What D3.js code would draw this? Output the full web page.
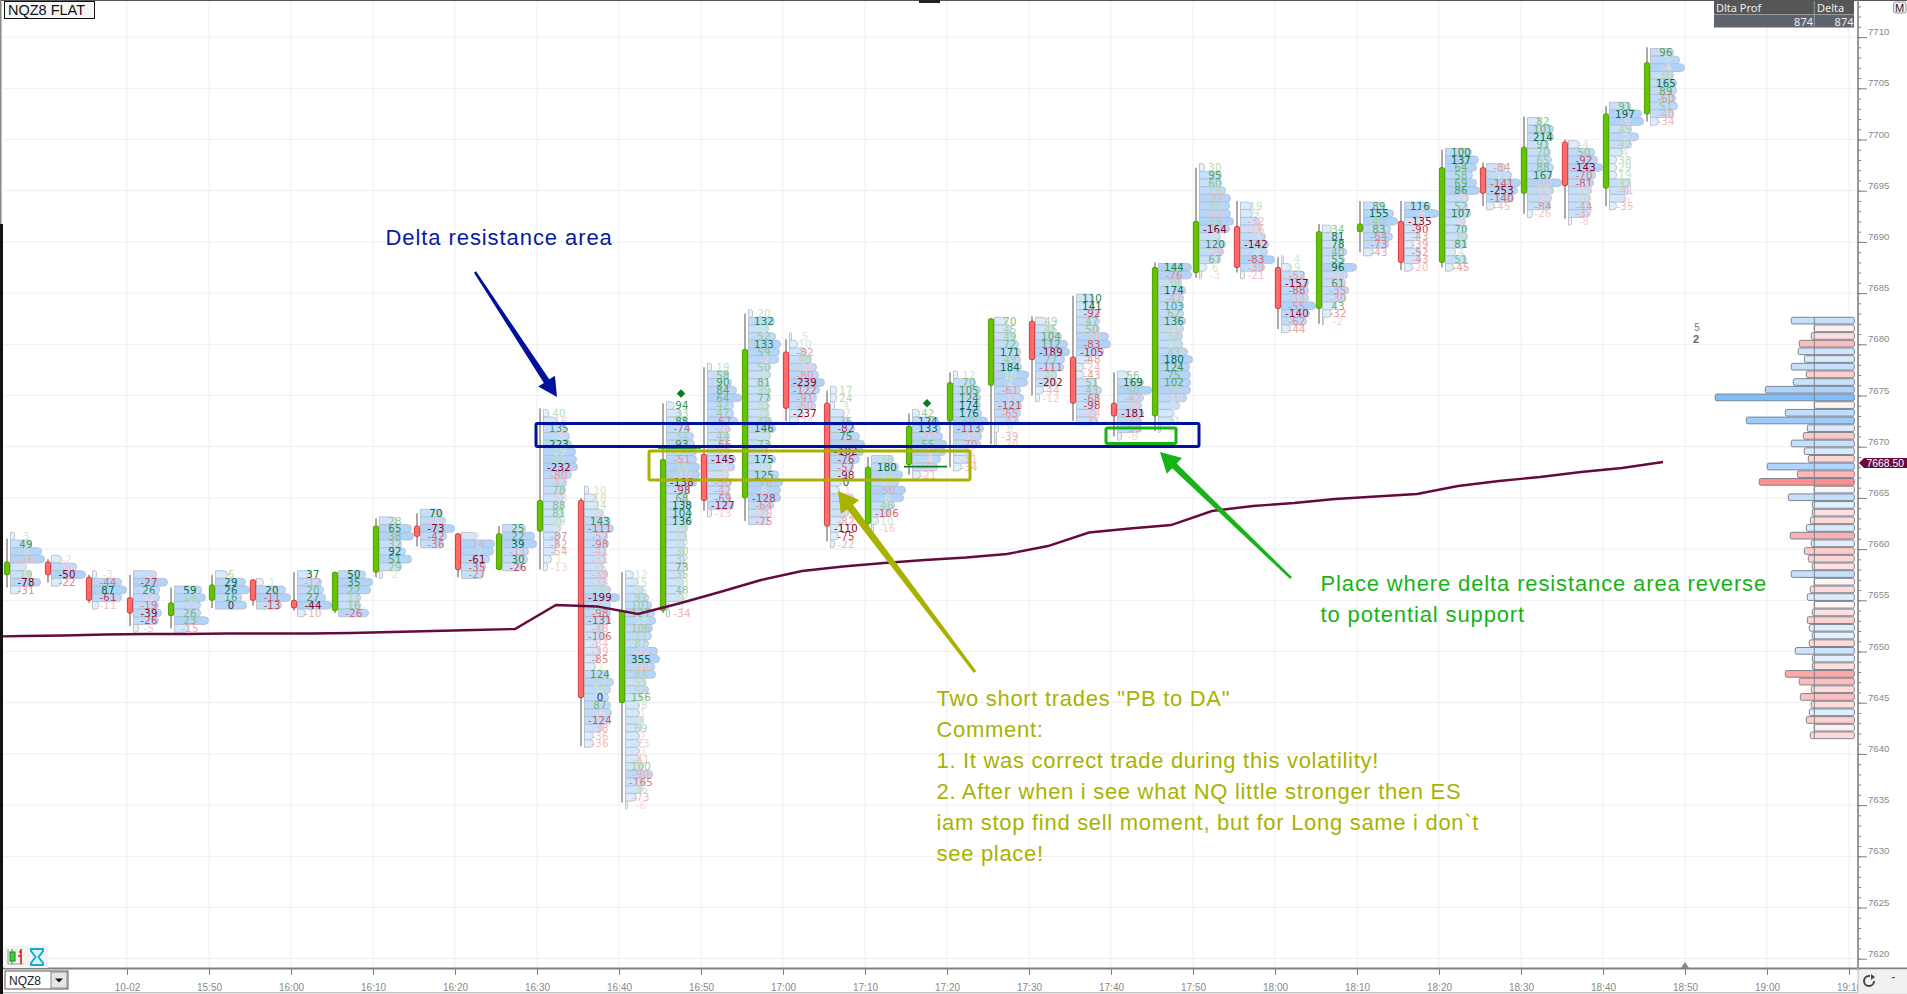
<!DOCTYPE html>
<html><head><meta charset="utf-8">
<script src="https://cdn.jsdelivr.net/npm/d3@7/dist/d3.min.js"></script>
<style>html,body{margin:0;padding:0;background:#fff;overflow:hidden}svg{display:block}</style>
</head><body><svg id="c" width="1907" height="994"></svg>
<script>
// ---- data ----
const candleMinutes=[-15,-10,-5,0,5,10,15,20,25,30,35,40,45,50,55,60,65,70,75,80,85,90,95,100,105,110,115,120,125,130,135,140,145,150,155,160,165,170,175,180,185];
const candleOpen=[7657.5,7658.75,7657.25,7655.25,7653.5,7655,7657,7655,7654,7657.75,7662.25,7661.5,7658,7661.75,7664.75,7645,7654,7669.25,7665,7679.25,7674.25,7662.5,7668.25,7672.5,7676,7682.25,7678.75,7674.25,7673,7687,7691.5,7687.5,7683.5,7691,7692,7688,7697.25,7694.75,7699.75,7695.25,7702.5];
const candleHigh=[7661,7659,7657.5,7657.5,7656.25,7657.5,7657,7657.75,7657.75,7663,7663.5,7661.5,7662.25,7673.75,7665,7657.75,7674.25,7677.75,7683,7680.5,7675.5,7669,7673.25,7677.25,7682.5,7682.75,7684.75,7677.25,7688,7697.25,7694,7688.5,7691.75,7694,7694,7699,7697.75,7702.25,7700,7703.25,7709];
const candleLow=[7656.25,7656.75,7654.75,7652.5,7652.25,7654.25,7654.5,7654,7653.75,7657.25,7660.25,7657.25,7658,7658,7640.75,7635.25,7653.75,7663.75,7662.75,7672.5,7660.75,7661.75,7667.25,7668,7670.25,7675,7672.5,7671,7671.5,7686.5,7687,7681.5,7682,7689,7687.25,7687.5,7693.5,7692.75,7692.25,7693.5,7701.75];
const candleClose=[7658.75,7657.5,7655,7653.75,7654.75,7656.5,7655,7654.25,7657.75,7662.25,7661.25,7658,7661.5,7664.75,7645.5,7654,7668.75,7664.75,7679.5,7673.75,7662.25,7668,7672,7676.25,7682.5,7678.5,7674.25,7673,7687.5,7692,7687.5,7683.5,7691,7691.75,7688,7697.25,7694.75,7699.25,7695.5,7702.5,7707.5];
const rowTop=[7661.64,7659.39,7657.89,7657.89,7656.39,7657.89,7657.14,7657.89,7657.89,7663.14,7663.89,7661.64,7662.39,7673.64,7666.14,7657.89,7674.39,7678.14,7683.39,7681.14,7675.89,7669.14,7673.64,7677.39,7682.64,7682.64,7684.89,7677.39,7687.89,7697.64,7693.89,7688.64,7691.64,7693.89,7693.89,7699.14,7697.64,7702.14,7699.89,7703.64,7708.89];
const rowDeltas=[
[3,49,8,-16,1,19,-78,-31],
[-2,-5,-50,-22],
[-3,-44,87,-61,-11],
[-3,-27,26,-2,-19,-39,-26,-5],
[59,14,-7,26,23,-15],
[6,29,26,16,0],
[1,20,-11,-13],
[37,-12,20,27,-44,-10],
[50,35,22,11,16,-26],
[28,65,38,32,92,51,29,2],
[70,-12,-73,-42,-36],
[2,-14,-7,-61,-35,-27],
[25,22,39,-11,30,-26],
[40,-16,135,-3,223,19,31,-232,-80,-41,78,-23,88,81,29,9,-87,-82,-54,1,-13],
[10,18,24,-9,143,-111,-57,-98,-41,-31,25,-39,-33,26,-199,23,-98,-131,-48,-106,-34,-39,-85,2,124,24,20,0,87,-6,-124,-38,-36,-36],
[12,15,35,91,101,127,18,106,77,87,-22,355,-48,84,55,68,156,18,-1,5,69,-2,-23,-3,-41,100,-90,-165,36,-73,-6],
[94,33,88,-74,34,93,14,-51,18,-10,-138,-98,68,138,104,136,20,21,22,30,32,73,35,13,48,12,1,-34],
[19,58,90,84,64,42,47,-67,-26,44,-66,-17,-145,-6,-7,-50,-42,-69,-127,-13],
[20,132,9,52,133,59,-2,50,8,81,39,77,35,18,48,146,12,73,-9,175,19,125,-46,6,-128,-64,-29,-75],
[5,10,-82,46,-16,-80,-239,-122,-91,-60,-237,-24],
[17,24,4,-7,36,-82,75,-20,-102,-76,-57,-98,0,-1,-5,-3,-15,-32,-110,-75,-22],
[36,180,24,22,-50,8,46,-106,10,-16],
[42,124,133,-25,55,-6,-4,-22,-21],
[12,70,105,124,174,176,50,-113,-15,-70,-8,-31,-34],
[70,45,49,72,171,49,184,10,2,-61,-13,-121,-65,-47,8,-39,-20],
[49,45,104,112,-189,77,-111,40,-202,-44,-12],
[110,141,-92,47,50,-18,-83,-105,-48,-24,-43,51,43,-68,-98,-24,-31],
[56,169,50,-42,-25,-181,-34,-50,-8],
[144,-76,38,174,-47,103,62,136,-15,34,14,43,180,124,75,102,37,-10,5,1,21,-3],
[30,95,60,29,-37,31,-23,39,-164,6,120,-29,67,6,-3],
[19,9,-32,-16,-4,-142,4,-83,-39,-21],
[4,9,-52,-157,-88,-33,-55,-140,-62,-44],
[34,81,78,40,55,96,-11,61,-35,-30,43,-32,-2],
[89,155,40,83,-64,-73,-43],
[116,-6,-135,-90,-43,-39,-52,-43,-20],
[100,137,64,58,69,86,-7,52,107,-5,70,30,81,4,51,-45],
[-84,11,-141,-253,-140,-45],
[82,101,214,91,70,65,88,167,-32,19,-14,-84,-26],
[-4,50,-92,-143,-70,-81,-15,20,-44,-37,-8],
[91,197,-9,45,7,42,4,38,29,19,37,-41,-5,-35],
[96,7,-4,36,165,89,-60,51,-40,-34]
];
const rowVols=[
[4,21,31,34,16,21,30,10],
[10,25,34,10],
[4,29,34,29,6],
[23,34,26,26,25,28,25,5],
[27,31,26,26,34,14],
[12,30,34,26,31],
[7,29,34,25],
[14,24,26,28,34,8],
[27,34,32,22,22,30],
[17,32,34,22,26,32,22,3],
[22,25,34,26,23],
[15,33,32,28,24,22],
[23,32,34,26,25,19],
[5,13,23,26,28,32,33,34,28,23,22,20,20,20,18,17,17,15,12,8,4],
[4,11,14,18,26,29,23,24,21,21,19,23,21,26,35,26,26,26,19,21,13,16,14,11,24,29,26,24,26,27,24,18,9,9],
[8,13,18,23,26,29,30,27,26,23,32,34,29,30,20,23,16,14,14,18,16,14,14,14,14,18,27,20,16,11,2],
[8,15,20,23,27,28,30,30,33,33,30,23,20,25,25,25,20,20,18,18,18,18,18,17,17,17,2,3],
[4,21,24,29,34,26,26,30,22,22,21,22,28,27,21,24,22,22,26,4],
[4,26,20,27,32,31,30,22,22,20,22,22,20,20,23,27,22,22,20,27,23,30,34,32,32,25,20,20],
[2,8,17,22,27,29,35,30,27,26,14,9],
[6,6,4,14,19,24,29,34,33,29,23,19,11,9,23,19,18,13,11,8,4],
[22,27,31,27,34,32,23,18,7,2],
[7,26,28,30,34,33,28,25,8],
[4,22,27,27,27,28,34,30,28,27,15,15,8],
[11,17,21,24,26,26,27,34,33,26,29,27,26,24,4,2,2],
[11,19,26,32,34,29,28,21,21,8,4],
[17,17,23,23,23,32,34,27,13,7,7,20,25,22,20,20,20],
[11,26,34,26,24,26,24,24,4],
[33,33,23,27,25,25,25,27,25,24,24,29,34,31,32,32,32,28,21,15,15,2],
[5,22,22,26,31,30,31,34,30,21,26,24,21,7,2],
[11,12,19,21,25,28,27,34,24,4],
[2,10,23,27,27,27,34,28,25,9],
[9,19,21,24,22,34,25,23,26,23,12,9,1],
[20,30,34,27,29,25,10],
[26,34,17,16,14,9,16,16,8],
[26,33,31,27,31,34,23,22,25,20,21,22,21,10,21,8],
[19,25,34,31,27,8],
[13,26,26,21,23,24,26,24,34,26,24,23,5],
[11,26,29,34,27,25,23,22,22,20,3],
[21,32,34,22,29,22,13,7,7,7,21,19,16,7],
[23,29,34,23,26,26,25,27,23,8]
];
const vwapMinutes=[-20,-15,-10,-5,0,5,10,15,20,25,30,35,40,45,50,55,60,65,70,75,80,85,90,95,100,105,110,115,120,125,130,135,140,145,150,155,160,165,170,175,180,185];
const vwapValues=[7651.45,7651.51,7651.56,7651.66,7651.71,7651.71,7651.76,7651.76,7651.76,7651.81,7651.9,7652,7652.1,7652.2,7654.54,7654.4,7653.66,7654.69,7655.81,7656.98,7657.86,7658.3,7658.64,7658.94,7659.18,7659.52,7660.3,7661.62,7662.01,7662.35,7663.72,7664.21,7664.5,7664.89,7665.14,7665.38,7666.16,7666.65,7667.04,7667.53,7667.92,7668.51];
const profileTop=7682.64;
const profileValues=[63,-12,-43,-55,56,50,63,-48,61,89,139,-8,69,108,47,-51,63,50,-46,87,-57,-95,-5,66,42,-42,-44,48,-64,43,-50,-46,-42,63,-6,-44,47,-4,-42,-47,45,42,-45,59,42,-42,-69,-55,-43,-54,-43,45,-48,-15,-44];
const markCandles=[16,22];
const markPrices=[7675.2,7674.25];
const pocPrices=[7669.875,7668.05];
const lastPrice=7668.5;
const priceTicks=[7620,7625,7630,7635,7640,7645,7650,7655,7660,7665,7670,7675,7680,7685,7690,7695,7700,7705,7710];
const timeTicks=[0,10,20,30,40,50,60,70,80,90,100,110,120,130,140,150,160,170,180,190,200,210];
const timeLabels=["10-02","15:50","16:00","16:10","16:20","16:30","16:40","16:50","17:00","17:10","17:20","17:30","17:40","17:50","18:00","18:10","18:20","18:30","18:40","18:50","19:00","19:10"];
const blueNote=["Delta resistance area"];
const greenNote=["Place where delta resistance area reverse","to potential support"];
const yellowNote=['Two short trades "PB to DA"',"Comment:","1. It was correct trade during this volatility!","2. After when i see what NQ little stronger then ES","iam stop find sell moment, but for Long same i don`t","see place!"];

// ---- scales ----
const svg=d3.select("#c");
const y=d3.scaleLinear().domain([7620,7710]).range([958.7,37.1]);
const x=d3.scaleLinear().domain([0,210]).range([127,1849]);
const plotL=3,plotR=1858,plotT=1,plotB=968;
const barShift=3,rowGap=3.5,rowH=y(0.75)-y(1.5),labelDx=15.5;
const cx=m=>x(m)+barShift;
const volW=d3.scaleLinear().domain([0,35]).range([0,35]);
const volFill=d3.scaleLinear().domain([0,34]).range(["#eef6fe","#b0d3fb"]);
const posText=d3.scaleLinear().domain([0,.2,.4,.6,.8,1]).range(["#dcebd8","#b5d8ac","#7fbb7f","#45a055","#178045","#006b3b"]);
const negText=d3.scaleLinear().domain([0,.2,.4,.6,.8,1]).range(["#f9dada","#f0b6b6","#e08c8c","#cc5a62","#b02238","#8c0020"]);
const textCol=(d,m)=>d===0?"#2a3550":(d>0?posText:negText)(Math.abs(d)/m);

svg.append("defs").append("clipPath").attr("id","plot").append("rect").attr("x",plotL).attr("y",plotT).attr("width",plotR-plotL).attr("height",plotB-plotT);

// ---- grid ----
const grid=svg.append("g").attr("stroke","#f1f1f1").attr("stroke-width",1.2);
grid.selectAll(".h").data(priceTicks).join("line").attr("x1",plotL).attr("x2",plotR).attr("y1",d=>y(d)).attr("y2",d=>y(d));
grid.selectAll(".v").data(timeTicks).join("line").attr("y1",plotT).attr("y2",plotB).attr("x1",d=>x(d)).attr("x2",d=>x(d));

// ---- candles + footprint ----
const plot=svg.append("g").attr("clip-path","url(#plot)");
const rowPath=(l,t,w,h)=>{const r=Math.min(4,w/2,h/2);return `M${l},${t}H${l+w-r}Q${l+w},${t} ${l+w},${t+r}V${t+h-r}Q${l+w},${t+h} ${l+w-r},${t+h}H${l}Z`;};
const bars=plot.selectAll("g.bar").data(candleMinutes.map((m,i)=>i)).join("g").attr("class","bar");
bars.each(function(i){
  const g=d3.select(this),m=candleMinutes[i],c=cx(m),left=c+rowGap;
  const ds=rowDeltas[i],vs=rowVols[i],top=y(rowTop[i]);
  const maxAbs=d3.max(ds,Math.abs)||1;
  const rows=ds.map((d,k)=>({d,v:vs[k],k}));
  g.selectAll("path.row").data(rows).join("path").attr("class","row")
    .attr("d",r=>rowPath(left,top+r.k*rowH,volW(r.v),rowH))
    .attr("fill",r=>volFill(r.v)).attr("stroke","#b7bec7").attr("stroke-width",.9);
  g.append("line").attr("x1",c).attr("x2",c).attr("y1",y(candleHigh[i])).attr("y2",y(candleLow[i])).attr("stroke","#a9a9a9").attr("stroke-width",2);
  const up=candleClose[i]>=candleOpen[i];
  const bt=y(Math.max(candleOpen[i],candleClose[i])),bb=y(Math.min(candleOpen[i],candleClose[i]));
  g.append("rect").attr("x",c-2.6).attr("width",5.2).attr("y",bt).attr("height",bb-bt).attr("rx",1.6)
    .attr("fill",up?"#63c400":"#ff6a6a").attr("stroke",up?"#4f9f00":"#d83a3a").attr("stroke-width",1);
  g.selectAll("text").data(rows).join("text")
    .attr("x",left+labelDx).attr("y",r=>top+(r.k+.5)*rowH+3.8)
    .attr("text-anchor","middle").attr("font-family","DejaVu Sans").attr("font-size",10.2).attr("letter-spacing",.2)
    .attr("fill",r=>textCol(r.d,maxAbs)).text(r=>r.d);
});
// POC lines and diamonds
markCandles.forEach((b,k)=>{
  const c=cx(candleMinutes[b]);
  plot.append("line").attr("x1",c-5).attr("x2",c+38).attr("y1",y(pocPrices[k])).attr("y2",y(pocPrices[k])).attr("stroke","#0b7a1e").attr("stroke-width",1.6);
  plot.append("path").attr("d",d3.symbol(d3.symbolSquare,36)).attr("transform",`translate(${c+18},${y(markPrices[k])}) rotate(45)`).attr("fill","#0a7d1e");
});
// VWAP
plot.append("path").datum(vwapMinutes.map((m,i)=>[cx(m)+16,y(vwapValues[i])]))
  .attr("d",d3.line()).attr("fill","none").attr("stroke","#660a3c").attr("stroke-width",2.4);

// ---- volume profile ----
const profW=v=>Math.max(40,Math.abs(v));
const profBlue=d3.scaleLinear().domain([0,42,63,108,139]).range(["#f4f9ff","#e3f0fd","#c6e0fb","#9ccbfc","#80bdfb"]);
const profRed=d3.scaleLinear().domain([0,42,55,70,95]).range(["#fff7f7","#ffe0e0","#ffbcbc","#ffa8a8","#ff8e8e"]);
const profR=1854.3;
svg.append("g").selectAll("rect").data(profileValues).join("rect")
  .attr("x",v=>profR-profW(v)).attr("width",profW).attr("y",(v,k)=>y(profileTop)+k*rowH).attr("height",rowH-1).attr("rx",1.5)
  .attr("fill",v=>v>=0?profBlue(v):profRed(-v)).attr("stroke","#7d858e").attr("stroke-width",1);
svg.append("line").attr("x1",profR-40).attr("x2",profR-40).attr("y1",y(profileTop)).attr("y2",y(profileTop)+profileValues.length*rowH-1).attr("stroke","#7d858e");
svg.append("text").attr("x",1697).attr("y",331).attr("text-anchor","middle").attr("font-family","Liberation Sans").attr("font-size",10).attr("fill","#777").text("5");
svg.append("text").attr("x",1696).attr("y",343).attr("text-anchor","middle").attr("font-family","Liberation Sans").attr("font-weight","bold").attr("font-size",11).attr("fill","#666").text("2");

// ---- annotations ----
function box(x0,y0,x1,y1,col){svg.append("rect").attr("x",x0).attr("y",y0).attr("width",x1-x0).attr("height",y1-y0).attr("rx",1.5).attr("fill","none").attr("stroke",col).attr("stroke-width",3);}
box(536,423.5,1199,446.5,"#00129c");
box(649,451,970,480,"#a9b200");
box(1106,428,1176,443.5,"#17b317");
function arrow(x0,y0,x1,y1,col,w0,w1,hl,hw){
  const a=Math.atan2(y1-y0,x1-x0),ca=Math.cos(a),sa=Math.sin(a);
  const bx=x1-ca*hl,by=y1-sa*hl;
  svg.append("path").attr("d",`M${x0-sa*w0/2},${y0+ca*w0/2}L${bx-sa*w1/2},${by+ca*w1/2}L${bx-sa*hw/2},${by+ca*hw/2}L${x1},${y1}L${bx+sa*hw/2},${by-ca*hw/2}L${bx+sa*w1/2},${by-ca*w1/2}L${x0+sa*w0/2},${y0-ca*w0/2}Z`).attr("fill",col);
}
arrow(475,272,557,397,"#00129c",2.5,6.5,19,20);
arrow(975,672,838,491,"#a9b200",3,7.5,20,23);
arrow(1291,578,1160,452,"#17b317",2.5,6.5,20,22);
function note(lines,xp,y0,dy,col,ls){
  svg.append("g").selectAll("text").data(lines).join("text").attr("x",xp).attr("y",(d,k)=>y0+k*dy)
    .attr("font-family","Liberation Sans").attr("font-size",22).attr("letter-spacing",ls).attr("fill",col).text(d=>d);
}
note(blueNote,385.5,244.5,0,"#0a1aa0",.92);
note(greenNote,1320.5,591,31,"#17b317",.87);
note(yellowNote,936.5,706,31,"#a9b200",.7);

// ---- frame ----
svg.append("rect").attr("x",0).attr("y",0).attr("width",1907).attr("height",1).attr("fill","#555");
svg.append("rect").attr("x",0).attr("y",0).attr("width",1.5).attr("height",224).attr("fill","#888");
svg.append("rect").attr("x",0).attr("y",224).attr("width",3).attr("height",770).attr("fill","#111");
svg.append("rect").attr("x",919).attr("y",0).attr("width",21).attr("height",3).attr("fill","#222");

// ---- axes ----
const axisCol="#808080";
const yAxisMinor=svg.append("g").attr("transform",`translate(${plotR},0)`)
  .call(d3.axisRight(y).tickValues(d3.range(7618,7716)).tickSize(3).tickFormat(""));
yAxisMinor.selectAll("line").attr("stroke",axisCol);
yAxisMinor.select(".domain").remove();
const yAxis=svg.append("g").attr("transform",`translate(${plotR},0)`)
  .call(d3.axisRight(y).tickValues(priceTicks).tickSize(9).tickFormat(d3.format("d")));
yAxis.select(".domain").remove();
yAxis.selectAll("line").attr("stroke",axisCol);
yAxis.selectAll("text").attr("x",10).attr("y",-3.4).attr("dy","0.1em")
  .attr("font-family","Liberation Sans").attr("font-size",9.6).attr("fill","#888");
svg.append("line").attr("x1",plotR).attr("x2",plotR).attr("y1",0).attr("y2",plotB).attr("stroke",axisCol).attr("stroke-width",1.6);

const xAxis=svg.append("g").attr("transform",`translate(0,${plotB+1})`)
  .call(d3.axisBottom(x).tickValues(timeTicks).tickSize(6).tickFormat((d,k)=>timeLabels[k]));
xAxis.select(".domain").remove();
xAxis.selectAll("line").attr("stroke",axisCol);
xAxis.selectAll("text").attr("y",16.2).attr("dy","0.55em").attr("font-family","Liberation Sans").attr("font-size",10).attr("fill","#888");
svg.append("line").attr("x1",3).attr("x2",1907).attr("y1",plotB+.5).attr("y2",plotB+.5).attr("stroke",axisCol).attr("stroke-width",2);
svg.append("line").attr("x1",3).attr("x2",1907).attr("y1",992.8).attr("y2",992.8).attr("stroke","#aaa");
svg.append("path").attr("d","M1681,968L1689,968L1685,962Z").attr("fill","#888");

// ---- bottom right panel ----
svg.append("rect").attr("x",plotR).attr("y",plotB+1.5).attr("width",49).attr("height",23.5).attr("fill","#f0f0f0");
svg.append("line").attr("x1",plotR).attr("x2",plotR).attr("y1",plotB).attr("y2",992).attr("stroke","#bbb");
svg.append("circle").attr("cx",1869).attr("cy",981).attr("r",5).attr("fill","none").attr("stroke","#444").attr("stroke-width",2).attr("stroke-dasharray","24 8");
svg.append("path").attr("d","M1871,974l4,3l-4,3z").attr("fill","#444");
svg.append("rect").attr("x",1892).attr("y",977).attr("width",3).attr("height",1.2).attr("fill","#555");

// ---- symbol box + icons ----
svg.append("rect").attr("x",5).attr("y",971).attr("width",63).attr("height",18).attr("fill","#fff").attr("stroke","#555");
svg.append("rect").attr("x",51).attr("y",972).attr("width",16).attr("height",16).attr("fill","#e6e6e6").attr("stroke","#888");
svg.append("path").attr("d","M55,978.5h8l-4,4z").attr("fill","#111");
svg.append("text").attr("x",9).attr("y",985).attr("font-family","Liberation Sans").attr("font-size",12).attr("fill","#222").text("NQZ8");
svg.append("rect").attr("x",4).attr("y",946).attr("width",44).attr("height",22).attr("fill","#f3f3f3");
svg.append("path").attr("d","M8,949V964H23").attr("fill","none").attr("stroke","#999");
svg.append("line").attr("x1",12).attr("x2",12).attr("y1",949).attr("y2",964).attr("stroke","#1a9a1a");
svg.append("rect").attr("x",10).attr("y",952).attr("width",5).attr("height",9).attr("fill","#3fd03f").attr("stroke","#178a17");
svg.append("path").attr("d","M19,952h2V949M21,952V964M21,956H18").attr("fill","none").attr("stroke","#e01818").attr("stroke-width",1.6);
svg.append("path").attr("d","M31,949h12v2l-4.5,6l4.5,6v2h-12v-2l4.5,-6l-4.5,-6z").attr("fill","#d8f2fa").attr("stroke","#1ba8d0").attr("stroke-width",2);

// ---- label + header ----
svg.append("rect").attr("x",4.5).attr("y",1.5).attr("width",90).attr("height",17).attr("fill","#f6f6f6").attr("stroke","#111");
svg.append("text").attr("x",8).attr("y",15).attr("font-family","Liberation Sans").attr("font-size",14.5).attr("fill","#111").text("NQZ8 FLAT");
svg.append("rect").attr("x",1714).attr("y",1).attr("width",140).attr("height",13.5).attr("fill","#565656");
svg.append("rect").attr("x",1714).attr("y",14.5).attr("width",140).attr("height",13).attr("fill","#5d646d");
svg.append("line").attr("x1",1814.3).attr("x2",1814.3).attr("y1",1).attr("y2",27.5).attr("stroke","#999");
svg.append("line").attr("x1",1714).attr("x2",1854).attr("y1",14.5).attr("y2",14.5).attr("stroke","#999");
const hdr=(t,xp,yp,anc)=>svg.append("text").attr("x",xp).attr("y",yp).attr("text-anchor",anc).attr("font-family","Noto Sans").attr("font-size",11).attr("fill","#eee").text(t);
hdr("Dlta Prof",1716,12,"start");hdr("Delta",1817,12,"start");hdr("874",1813,25.5,"end");hdr("874",1853.5,25.5,"end");
svg.append("rect").attr("x",1893.5).attr("y",2).attr("width",12.5).attr("height",11).attr("rx",2).attr("fill","#f4f4f4").attr("stroke","#999");
svg.append("text").attr("x",1899.7).attr("y",11.5).attr("text-anchor","middle").attr("font-family","Liberation Sans").attr("font-size",11).attr("fill","#222").text("M");

// ---- last price tag ----
const ty=y(lastPrice)+1;
svg.append("path").attr("d",`M1859,${ty}L1864,${ty-5}H1907V${ty+5}H1864Z`).attr("fill","#6a0a3f");
svg.append("text").attr("x",1866.5).attr("y",ty+3.8).attr("font-family","Liberation Sans").attr("font-size",10.4).attr("fill","#fff").text(lastPrice.toFixed(2));
</script></body></html>
